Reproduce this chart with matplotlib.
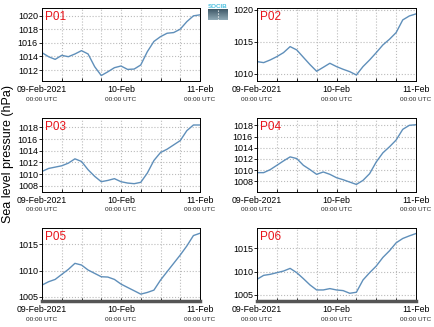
import numpy as np
import pandas as pd
import matplotlib
matplotlib.use('Agg')
import matplotlib.pyplot as plt
import matplotlib.dates as mdates
from matplotlib.colors import LinearSegmentedColormap

plt.rcParams['font.family'] = ['Liberation Sans', 'DejaVu Sans']

# time axis: 09-Feb-2021 00:00 UTC to 11-Feb-2021 00:00 UTC, every 2 hours
times = pd.date_range('2021-02-09 00:00', '2021-02-11 00:00', freq='2h')

# sea level pressure (hPa)
p01 = [1014.55, 1013.96, 1013.57, 1014.16, 1013.96, 1014.36, 1014.85, 1014.36, 1012.5,
       1011.2, 1011.75, 1012.35, 1012.6, 1012.1, 1012.15, 1012.75, 1014.7, 1016.2,
       1016.9, 1017.4, 1017.5, 1018.0, 1019.1, 1019.95, 1020.1]
p02 = [1011.93, 1011.77, 1012.19, 1012.71, 1013.33, 1014.27, 1013.75, 1012.6, 1011.46,
       1010.42, 1011.04, 1011.67, 1011.15, 1010.73, 1010.36, 1009.84, 1011.15, 1012.19,
       1013.33, 1014.53, 1015.42, 1016.46, 1018.44, 1019.06, 1019.38]
p03 = [1010.44, 1010.95, 1011.18, 1011.41, 1011.86, 1012.6, 1012.15, 1010.73, 1009.6,
       1008.68, 1008.9, 1009.2, 1008.68, 1008.45, 1008.34, 1008.57, 1010.16, 1012.32,
       1013.68, 1014.25, 1014.99, 1015.73, 1017.43, 1018.4, 1018.4]
p04 = [1009.56, 1009.56, 1010.1, 1010.87, 1011.65, 1012.37, 1012.07, 1010.87, 1010.1,
       1009.26, 1009.68, 1009.26, 1008.66, 1008.3, 1007.88, 1007.46, 1008.18, 1009.38,
       1011.47, 1013.09, 1014.17, 1015.37, 1017.28, 1018.0, 1018.1]
p05 = [1007.23, 1007.87, 1008.31, 1009.27, 1010.22, 1011.37, 1011.05, 1010.1, 1009.46,
       1008.82, 1008.76, 1008.31, 1007.42, 1006.78, 1006.15, 1005.51, 1005.83, 1006.27,
       1008.18, 1009.78, 1011.37, 1012.96, 1014.68, 1016.66, 1017.1]
p06 = [1008.33, 1009.18, 1009.4, 1009.75, 1010.1, 1010.67, 1009.75, 1008.48, 1007.13,
       1006.06, 1006.06, 1006.35, 1006.06, 1005.92, 1005.35, 1005.57, 1008.19, 1009.75,
       1011.17, 1013.01, 1014.43, 1016.13, 1017.06, 1017.62, 1018.12]

names = ['P01', 'P02', 'P03', 'P04', 'P05', 'P06']
series = [p01, p02, p03, p04, p05, p06]
ylims = [(1010.4, 1021.1), (1008.9, 1020.3), (1007.0, 1019.6),
         (1006.2, 1019.3), (1004.2, 1018.1), (1003.7, 1019.3)]
yticks = [[1012, 1014, 1016, 1018, 1020], [1010, 1015, 1020],
          [1008, 1010, 1012, 1014, 1016, 1018], [1008, 1010, 1012, 1014, 1016, 1018],
          [1005, 1010, 1015], [1005, 1010, 1015]]
xtick_dates = pd.to_datetime(['2021-02-09', '2021-02-10', '2021-02-11'])
xtick_top = ['09-Feb-2021', '10-Feb', '11-Feb']
xtick_bottom = ['00:00 UTC', '00:00 UTC', '00:00 UTC']

W, H = 434, 327
fig = plt.figure(figsize=(W / 100, H / 100), dpi=100)

# axes boxes in pixels: left, top, right, bottom
cols = [(42, 200), (257, 416)]
rows = [(8, 81), (118, 191.5), (228, 301)]

for i, (name, vals) in enumerate(zip(names, series)):
    r, c = divmod(i, 2)
    x0, x1 = cols[c]
    y0, y1 = rows[r]
    ax = fig.add_axes([x0 / W, 1 - y1 / H, (x1 - x0) / W, (y1 - y0) / H])
    ax.plot(times, vals, color='#5f8fba', lw=1.0)
    ax.set_xlim(times[0], times[-1])
    ax.set_ylim(*ylims[i])
    ax.set_yticks(yticks[i])
    ax.set_yticklabels([str(v) for v in yticks[i]])
    ax.set_xticks(xtick_dates)
    ax.set_xticklabels(xtick_top)
    ax.xaxis.set_minor_locator(mdates.HourLocator(byhour=[6, 12, 18]))
    ax.grid(True, which='both', axis='x', color='#bbbbbb', ls=':', lw=0.8)
    ax.grid(True, which='major', axis='y', color='#bbbbbb', ls=':', lw=0.8)
    ax.tick_params(axis='y', direction='out', length=2, width=0.6, pad=1, labelsize=6.5)
    ax.tick_params(axis='x', which='both', direction='in', length=2, width=0.6,
                   pad=3.2, labelsize=6.3)
    for sp in ax.spines.values():
        sp.set_linewidth(0.7)
    if r == 2:
        ax.spines['bottom'].set_linewidth(2.5)
        ax.spines['bottom'].set_color('#555555')
    for d, lab in zip(xtick_dates, xtick_bottom):
        ax.annotate(lab, xy=(d, 0), xycoords=('data', 'axes fraction'),
                    xytext=(0, -13), textcoords='offset points',
                    ha='center', va='center', fontsize=4.6, color='#222222')
    ax.text(0.016, 0.955, name, transform=ax.transAxes, ha='left', va='top',
            color='#e8141a', fontsize=8.5)

fig.text(8 / W, 1 - 154 / H, 'Sea level pressure (hPa)', rotation=90,
         ha='center', va='center', fontsize=9)

# small SOCIB logo
fig.text(218 / W, 1 - 6 / H, 'SOCIB', color='#4cc0e0', fontsize=4.5,
         ha='center', va='center', fontweight='bold')
lax = fig.add_axes([208 / W, 1 - 20 / H, 20 / W, 11 / H])
cmap = LinearSegmentedColormap.from_list('logo', ['#3f5968', '#8fa9b5'])
lax.imshow(np.linspace(0, 1, 20).reshape(-1, 1), cmap=cmap, aspect='auto')
lax.axvline(0, color='white', ls=':', lw=0.8)
lax.axis('off')

fig.savefig('out.png', dpi=100)
